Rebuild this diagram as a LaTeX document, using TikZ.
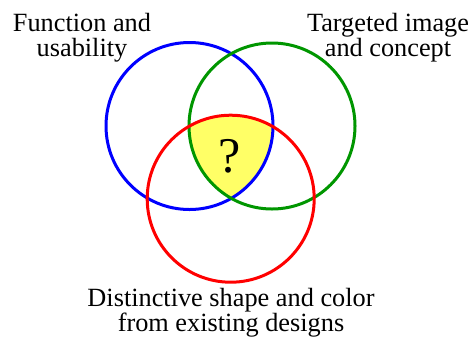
\documentclass[tikz,border=0pt]{standalone}
\usepackage{fontspec}
\setmainfont{Liberation Serif}
\definecolor{vblue}{RGB}{0,0,255}
\definecolor{vgreen}{RGB}{0,150,0}
\definecolor{vred}{RGB}{255,0,0}
\definecolor{vyellow}{RGB}{255,255,102}
\begin{document}
\begin{tikzpicture}[x=1pt,y=-1pt,
  ring/.style={line width=3pt},
  label/.style={align=center,inner sep=0pt,font=\fontsize{26.3}{25}\selectfont}]
\useasboundingbox (0,0) rectangle (473,338);
\fill[white] (0,0) rectangle (473,338);
\begin{scope}
  \clip (189.5,126) circle[radius=83.5];
  \clip (272,126) circle[radius=83];
  \fill[vyellow] (230.7,198.7) circle[radius=83.5];
\end{scope}
\draw[ring,vblue] (189.5,126) circle[radius=83.5];
\draw[ring,vgreen] (272,126) circle[radius=83];
\draw[ring,vred] (230.7,198.7) circle[radius=83.5];
\node[inner sep=0pt,font=\fontsize{50}{50}\selectfont] (q) at (230,156) {?};
\node[label,anchor=base] (fu) at (82,56.7) {Function and\\usability};
\node[label,anchor=base] (ti) at (388,56.7) {Targeted image\\and concept};
\node[label,anchor=base] (ds) at (231,331.7) {Distinctive shape and color\\from existing designs};
\end{tikzpicture}
\end{document}
